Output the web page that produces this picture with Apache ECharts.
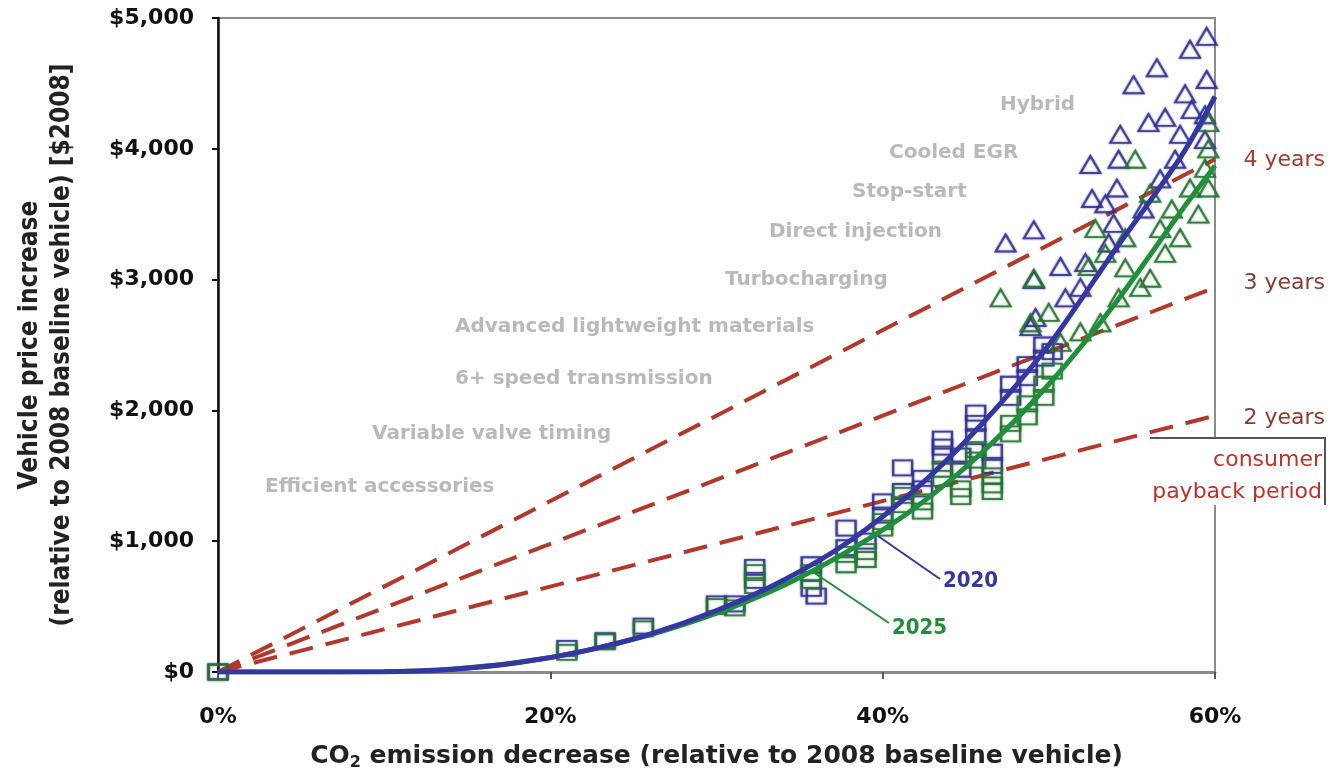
<!DOCTYPE html>
<html>
<head>
<meta charset="utf-8">
<script src="https://cdn.jsdelivr.net/npm/echarts@6/dist/echarts.min.js"></script>
<style>
  html, body { margin: 0; padding: 0; background: #fff; }
  #chart { width: 1332px; height: 776px; }
</style>
</head>
<body>
<div id="chart"></div>
<script>
// ---- Data (CO2 decrease in %, price increase in $2008) ----
const curveX = [0, 5, 10, 14, 18, 22, 26, 30, 34, 38, 42, 46, 50, 54, 58, 60];
const cost2020 = [0, 0, 2, 20, 70, 160, 290, 470, 700, 1000, 1400, 1900, 2500, 3230, 3950, 4400];
const cost2025 = [0, 0, 2, 22, 72, 160, 285, 450, 660, 930, 1260, 1680, 2200, 2820, 3530, 3870];

// Payback lines: price at 60% CO2 decrease for each payback period
const paybackYears = [2, 3, 4];
const paybackAt60 = [1960, 2940, 3920];

// Conventional technology packages (squares)
const squares2020 = [
  [0, 0], [21.0, 180], [23.3, 240], [25.6, 350], [30.0, 520], [31.1, 520],
  [32.3, 800], [32.3, 700], [35.7, 820], [35.7, 640], [36.0, 580],
  [37.8, 1100], [37.8, 950], [39.0, 1000], [40.0, 1300], [40.0, 1200],
  [41.2, 1560], [41.2, 1380], [42.4, 1480], [42.4, 1400],
  [43.6, 1780], [43.6, 1720], [43.6, 1650], [44.7, 1650], [44.7, 1550],
  [45.6, 1980], [45.6, 1900], [45.6, 1800], [46.6, 1680], [46.6, 1580],
  [47.7, 2200], [47.7, 2100], [48.7, 2350], [48.7, 2250],
  [49.7, 2500], [49.7, 2400], [50.2, 2450]
];
const squares2025 = [
  [0, 0], [21.0, 150], [23.3, 230], [25.6, 330], [30.0, 500], [31.1, 490],
  [32.3, 760], [32.3, 660], [35.7, 760], [35.7, 700],
  [37.8, 900], [37.8, 820], [39.0, 920], [39.0, 860], [40.0, 1150], [40.0, 1100],
  [41.2, 1350], [41.2, 1280], [42.4, 1300], [42.4, 1230],
  [43.6, 1550], [43.6, 1480], [44.7, 1400], [44.7, 1340],
  [45.6, 1700], [45.6, 1620], [46.6, 1500], [46.6, 1430], [46.6, 1380],
  [47.7, 1900], [47.7, 1820], [48.7, 2050], [48.7, 1950],
  [49.7, 2200], [49.7, 2100], [50.2, 2300]
];

// Hybrid packages (triangles)
const triangles2020 = [
  [47.4, 3280], [49.1, 3380], [50.7, 3100], [49.1, 3000], [52.5, 3880], [52.6, 3620],
  [54.3, 4110], [54.2, 3920], [54.1, 3700], [53.4, 3580], [55.1, 4490], [56.5, 4620],
  [57.0, 4240], [58.2, 4420], [58.5, 4760], [59.5, 4860], [59.5, 4530], [59.4, 4260],
  [59.4, 4070], [57.9, 4110], [57.6, 3920], [56.7, 3770], [55.7, 3540], [53.9, 3430],
  [53.6, 3280], [52.2, 3130], [51.0, 2860], [49.2, 2710], [48.9, 2640], [51.9, 2940],
  [58.6, 4300], [56.0, 4200]
];
const triangles2025 = [
  [47.1, 2860], [49.1, 3010], [48.9, 2670], [50.0, 2750], [52.8, 3390], [53.4, 3200],
  [54.6, 3090], [55.2, 3920], [56.1, 3660], [56.7, 3390], [57.0, 3200], [57.4, 3540],
  [58.5, 3700], [59.0, 3500], [59.4, 3850], [59.6, 3700], [59.6, 4000], [56.1, 3010],
  [55.5, 2940], [54.2, 2860], [53.1, 2670], [51.9, 2600], [50.7, 2520], [54.6, 3320],
  [57.9, 3320], [59.6, 4200], [52.4, 3100]
];

// Technology annotations
const techNames = [
  'Hybrid', 'Cooled EGR', 'Stop-start', 'Direct injection', 'Turbocharging',
  'Advanced lightweight materials', '6+ speed transmission',
  'Variable valve timing', 'Efficient accessories'
];
const xTicks = [0, 20, 40, 60];

// ---- Layout of annotations (pixels) ----
const techPos = [
  [1000, 105], [889, 153], [852, 192], [769, 232], [725, 280],
  [455, 327], [455, 379], [372, 434], [265, 487]
];
const yearsPosY = [418, 283, 160];

const BLUE = '#3535a3';
const GREEN = '#1f8f3c';
const DASH_RED = '#b3382c';

const zip = (xs, ys) => xs.map((x, i) => [x, ys[i]]);

const series = [];
paybackYears.forEach((yr, i) => {
  series.push({
    name: yr + ' years',
    type: 'line',
    data: [[0, 0], [xTicks[xTicks.length - 1], paybackAt60[i]]],
    symbol: 'none',
    z: 1,
    lineStyle: { color: DASH_RED, width: 4, type: [24, 13] }
  });
});

const markerStyle = (c, dark) => ({
  color: 'rgba(255,255,255,0)',
  borderColor: dark,
  borderWidth: 2,
  shadowColor: c,
  shadowBlur: 2
});

series.push(
  { name: '2020 conventional', type: 'scatter', data: squares2020, symbol: 'rect', symbolSize: [19, 15], z: 2,
    itemStyle: markerStyle(BLUE, '#2e2f86') },
  { name: '2025 conventional', type: 'scatter', data: squares2025, symbol: 'rect', symbolSize: [19, 15], z: 2,
    itemStyle: markerStyle(GREEN, '#2c6a30') },
  { name: '2020 hybrid', type: 'scatter', data: triangles2020, symbol: 'triangle', symbolSize: [20, 17], z: 2,
    itemStyle: markerStyle(BLUE, '#2e2f86') },
  { name: '2025 hybrid', type: 'scatter', data: triangles2025, symbol: 'triangle', symbolSize: [20, 17], z: 2,
    itemStyle: markerStyle(GREEN, '#2c6a30') },
  { name: '2025', type: 'line', data: zip(curveX, cost2025), smooth: 0.3, symbol: 'none', z: 3,
    lineStyle: { color: GREEN, width: 5 } },
  { name: '2020', type: 'line', data: zip(curveX, cost2020), smooth: 0.3, symbol: 'none', z: 4,
    lineStyle: { color: BLUE, width: 5 } }
);

const graphics = [];
techNames.forEach((t, i) => {
  graphics.push({
    type: 'text', x: techPos[i][0], y: techPos[i][1], z: 50,
    style: { text: t, fill: '#b9b9b9', font: 'bold 20px "DejaVu Sans", Verdana, sans-serif',
             textAlign: 'left', textVerticalAlign: 'middle' }
  });
});
paybackYears.forEach((yr, i) => {
  graphics.push({
    type: 'text', x: 1325, y: yearsPosY[i], z: 50,
    style: { text: yr + ' years', fill: i === 2 ? '#a8392d' : '#8a3a2e',
             font: '22px "DejaVu Sans", Verdana, sans-serif', textAlign: 'right', textVerticalAlign: 'middle' }
  });
});
// consumer payback period box
graphics.push(
  { type: 'rect', z: 40, shape: { x: 1150, y: 439, width: 175, height: 66 }, style: { fill: '#fff' } },
  { type: 'polyline', z: 41, shape: { points: [[1150, 438], [1325, 438], [1325, 505]] },
    style: { stroke: '#555', lineWidth: 2, fill: null } },
  { type: 'text', x: 1322, y: 460, z: 50,
    style: { text: 'consumer', fill: '#c0302a', font: '22px "DejaVu Sans", Verdana, sans-serif',
             textAlign: 'right', textVerticalAlign: 'middle' } },
  { type: 'text', x: 1322, y: 492, z: 50,
    style: { text: 'payback period', fill: '#c0302a', font: '22px "DejaVu Sans", Verdana, sans-serif',
             textAlign: 'right', textVerticalAlign: 'middle' } }
);
// curve year tags with leader lines
graphics.push(
  { type: 'line', z: 45, shape: { x1: 878, y1: 536, x2: 940, y2: 579 }, style: { stroke: BLUE, lineWidth: 2 } },
  { type: 'text', x: 943, y: 581, z: 50,
    style: { text: '2020', fill: BLUE, font: 'bold 22px "DejaVu Sans Condensed", "DejaVu Sans", sans-serif',
             textAlign: 'left', textVerticalAlign: 'middle' } },
  { type: 'line', z: 45, shape: { x1: 810, y1: 570, x2: 889, y2: 623 }, style: { stroke: GREEN, lineWidth: 2 } },
  { type: 'text', x: 892, y: 628, z: 50,
    style: { text: '2025', fill: GREEN, font: 'bold 22px "DejaVu Sans Condensed", "DejaVu Sans", sans-serif',
             textAlign: 'left', textVerticalAlign: 'middle' } }
);

const chart = echarts.init(document.getElementById('chart'), null, { renderer: 'canvas' });
chart.setOption({
  animation: false,
  backgroundColor: '#fff',
  grid: { left: 218, top: 18, width: 997, height: 659, show: true, borderColor: '#8c8c8c', borderWidth: 2,
          backgroundColor: 'rgba(0,0,0,0)' },
  xAxis: {
    type: 'value', min: 0, max: 60, interval: 20,
    name: 'CO{sub|2} emission decrease (relative to 2008 baseline vehicle)',
    nameLocation: 'middle', nameGap: 69,
    nameTextStyle: {
      color: '#222', fontSize: 25, fontWeight: 'bold', fontFamily: '"DejaVu Sans", Verdana, sans-serif',
      rich: { sub: { fontSize: 16, fontWeight: 'bold', color: '#222', fontFamily: '"DejaVu Sans", sans-serif',
                     padding: [14, 0, 0, 0] } }
    },
    axisLine: { show: true, lineStyle: { color: '#8a8a8a', width: 3 } },
    axisTick: { show: true, length: 7, lineStyle: { color: '#555', width: 2 } },
    splitLine: { show: false },
    axisLabel: { margin: 34, formatter: '{value}%', color: '#111', fontSize: 22, fontWeight: 'bold',
                 fontFamily: '"DejaVu Sans", Verdana, sans-serif' }
  },
  yAxis: {
    type: 'value', min: 0, max: 5000, interval: 1000,
    name: 'Vehicle price increase\n(relative to 2008 baseline vehicle) [$2008]',
    nameLocation: 'middle', nameGap: 140, nameRotate: 90,
    nameTextStyle: { color: '#222', fontSize: 26, lineHeight: 32, fontWeight: 'bold', align: 'center',
                     fontFamily: '"Liberation Sans Narrow", "DejaVu Sans Condensed", sans-serif' },
    axisLine: { show: true, lineStyle: { color: '#111', width: 2.5 } },
    axisTick: { show: true, length: 6, lineStyle: { color: '#111', width: 2 } },
    splitLine: { show: false },
    axisLabel: { margin: 24, color: '#111', fontSize: 22, fontWeight: 'bold',
                 fontFamily: '"DejaVu Sans", Verdana, sans-serif',
                 formatter: v => '$' + v.toLocaleString('en-US') }
  },
  series: series,
  graphic: graphics
});
</script>
</body>
</html>
